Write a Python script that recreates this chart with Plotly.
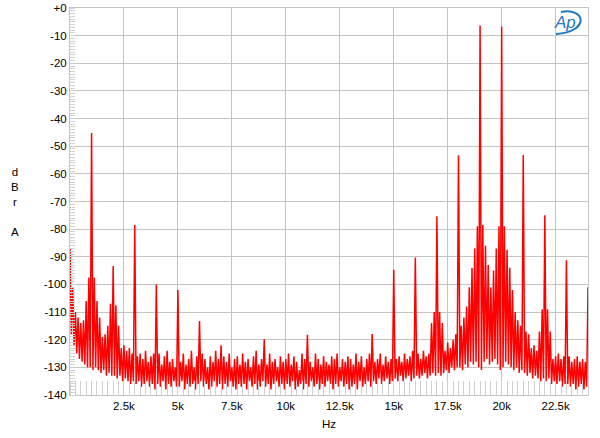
import numpy as np
import plotly.graph_objects as go

# ---------------- data ----------------
comb_step_hz = 125  # spacing of noise-floor maxima

# noise-floor maxima at 0, 125, 250 ... 24000 Hz (dB)
floor_peak_db = [
    -87, -101, -110, -112, -114, -113, -116, -117,
    -118, -116, -118, -117, -119, -118, -120, -119,
    -120, -122, -121, -123, -122, -124, -123, -125,
    -124, -126, -125, -127, -124, -128, -126, -125,
    -127, -125, -129, -126, -124, -128, -127, -130,
    -126, -128, -125, -129, -127, -124, -130, -126,
    -128, -125, -127, -130, -126, -128, -124, -127,
    -129, -126, -128, -125, -130, -127, -126, -129,
    -125, -128, -127, -130, -126, -124, -129, -127,
    -126, -129, -125, -128, -127, -130, -126, -128,
    -127, -125, -129, -126, -128, -131, -125, -127,
    -126, -128, -130, -125, -127, -129, -126, -128,
    -129, -126, -127, -125, -130, -127, -128, -126,
    -127, -129, -125, -128, -126, -130, -127, -125,
    -126, -128, -127, -125, -129, -126, -128, -127,
    -125, -127, -126, -128, -125, -127, -126, -124,
    -126, -125, -127, -124, -126, -125, -123, -125,
    -123, -124, -122, -124, -121, -123, -120, -122,
    -119, -120, -118, -117, -115, -116, -113, -114,
    -112, -111, -113, -110, -114, -112, -111, -113,
    -110, -112, -114, -113, -116, -118, -117, -119,
    -120, -122, -121, -123, -122, -124, -123, -125,
    -124, -126, -125, -127, -126, -125, -127, -126,
    -127, -126, -128, -127, -126, -128, -127, -128,
    -101,
]

# noise-floor minima half-way between the maxima (62.5, 187.5, ... Hz)
floor_trough_db = [
    -118, -122, -125, -127, -128, -129, -130, -130,
    -131, -130, -131, -132, -131, -133, -132, -133,
    -133, -134, -133, -135, -134, -135, -136, -135,
    -136, -135, -137, -136, -135, -137, -136, -138,
    -136, -137, -135, -138, -136, -137, -135, -137,
    -137, -135, -138, -136, -137, -136, -138, -136,
    -135, -137, -136, -138, -137, -135, -137, -136,
    -138, -136, -137, -135, -137, -138, -136, -137,
    -136, -138, -135, -137, -136, -138, -137, -135,
    -137, -136, -138, -136, -135, -137, -136, -138,
    -136, -137, -135, -138, -137, -136, -138, -136,
    -137, -135, -137, -136, -138, -136, -137, -135,
    -136, -138, -136, -137, -135, -137, -136, -138,
    -137, -136, -138, -135, -137, -136, -135, -137,
    -135, -136, -134, -136, -135, -134, -136, -135,
    -134, -135, -133, -135, -134, -133, -135, -134,
    -133, -134, -133, -132, -134, -133, -132, -133,
    -132, -133, -132, -131, -132, -130, -131, -130,
    -130, -131, -129, -130, -128, -129, -128, -130,
    -131, -128, -127, -129, -128, -127, -129, -131,
    -130, -128, -129, -130, -131, -130, -132, -131,
    -132, -133, -132, -134, -133, -134, -135, -134,
    -135, -134, -136, -135, -136, -135, -137, -136,
    -136, -137, -136, -138, -137, -136, -138, -137,
]

# discrete tones: harmonics, IMD products and sidebands
tone_freq_hz = [
    625, 750, 875, 1000, 1125, 1250, 1375,
    1750, 1875, 2000, 2125, 2250,
    3000, 4000, 5000, 6000, 7000, 9000, 11000, 14000,
    15000, 16000,
    16750, 16875, 17000, 17125, 17250,
    17750, 17875, 18000, 18125, 18250, 18375, 18500, 18625, 18750, 18875,
    19000, 19125, 19250, 19375, 19500, 19625, 19750, 19875,
    20000, 20125, 20250, 20375, 20500, 20625, 20750, 20875,
    21000, 21125, 21250,
    21750, 21875, 22000, 22125, 22250,
    23000,
]
tone_db = [
    -113, -106, -97.5, -45.2, -97.5, -106, -112,
    -115, -107, -93.3, -107.5, -115,
    -78.5, -100, -102, -113.2, -122, -119.8, -118.2, -117.9,
    -94.7, -90.3,
    -114, -110, -75.3, -110, -114,
    -120, -118, -53.3, -115, -112, -108, -101, -94, -87, -79,
    -6.3, -78.5, -86, -93, -101, -95, -87, -79,
    -6.7, -79, -87.5, -94, -102, -110, -113, -115,
    -53.2, -117, -118,
    -117, -109, -75, -109, -117,
    -91.3,
]

# axis tick labels
y_tick_vals = [0, -10, -20, -30, -40, -50, -60, -70, -80, -90, -100, -110, -120, -130, -140]
y_tick_text = ["+0", "-10", "-20", "-30", "-40", "-50", "-60", "-70", "-80", "-90",
               "-100", "-110", "-120", "-130", "-140"]
x_tick_vals = [2500, 5000, 7500, 10000, 12500, 15000, 17500, 20000, 22500]
x_tick_text = ["2.5k", "5k", "7.5k", "10k", "12.5k", "15k", "17.5k", "20k", "22.5k"]

# ---------------- build the spectrum trace ----------------
tones = dict(zip(tone_freq_hz, tone_db))
freq = []
level = []
for i, pk in enumerate(floor_peak_db):
    f = i * comb_step_hz
    freq.append(f)
    level.append(max(pk, tones.get(f, -999)))
    if i < len(floor_trough_db):
        freq.append(f + comb_step_hz / 2)
        level.append(floor_trough_db[i])

fig = go.Figure()
fig.add_trace(go.Scatter(
    x=freq, y=level, mode="lines",
    line=dict(color="#ff0000", width=1.5),
    hoverinfo="skip", showlegend=False,
))

FONT = "Liberation Sans, Arial, sans-serif"
GRID = "#c4c4c4"
L, R, T, B = 70, 12, 8, 43
W, H = 600, 438
pw, ph = W - L - R, H - T - B


def px(x, y):
    return (x - L) / pw, (H - B - y) / ph


fig.update_layout(
    width=W, height=H,
    margin=dict(l=L, r=R, t=T, b=B, autoexpand=False),
    paper_bgcolor="white", plot_bgcolor="white",
    font=dict(family=FONT, size=11.5, color="black"),
    xaxis=dict(
        range=[0, 24000], tickvals=x_tick_vals, ticktext=x_tick_text,
        automargin=False,
        showgrid=True, gridcolor=GRID, gridwidth=1,
        showline=True, linecolor=GRID, linewidth=1, mirror=True,
        ticks="", zeroline=False,
        minor=dict(dtick=250, ticks="inside", ticklen=14, tickcolor="#d0d0d0",
                   tickwidth=1, showgrid=False),
        tickfont=dict(family=FONT, size=11.5),
    ),
    yaxis=dict(
        range=[-140, 0], tickvals=y_tick_vals, ticktext=y_tick_text,
        automargin=False,
        showgrid=True, gridcolor=GRID, gridwidth=1,
        showline=True, linecolor=GRID, linewidth=1, mirror=True,
        ticks="", zeroline=False,
        minor=dict(dtick=1, ticks="inside", ticklen=5, tickcolor="#d0d0d0",
                   tickwidth=1, showgrid=False),
        tickfont=dict(family=FONT, size=11.5),
    ),
)

ax, ay = px(329, 424)
fig.add_annotation(text="Hz", xref="paper", yref="paper", x=ax, y=ay,
                   showarrow=False, font=dict(family=FONT, size=11.5),
                   xanchor="center", yanchor="middle")
ax, ay = px(15, 201.5)
fig.add_annotation(text="d<br>B<br>r<br> <br>A", xref="paper", yref="paper",
                   x=ax, y=ay, showarrow=False, align="center",
                   font=dict(family=FONT, size=11.5),
                   xanchor="center", yanchor="middle")

# AP logo
ax, ay = px(565, 23)
fig.add_annotation(text="<i>Ap</i>", xref="paper", yref="paper", x=ax, y=ay,
                   showarrow=False, font=dict(family=FONT, size=17, color="#1f78c1"),
                   xanchor="center", yanchor="middle")
p0 = px(561, 12)
c1 = px(586, 7)
c2 = px(590, 32)
p1 = px(556, 34)
fig.add_shape(type="path", xref="paper", yref="paper",
              path=f"M {p0[0]},{p0[1]} C {c1[0]},{c1[1]} {c2[0]},{c2[1]} {p1[0]},{p1[1]}",
              line=dict(color="#1f78c1", width=2))

fig.write_html(
    "out.html",
    config={"displayModeBar": False, "staticPlot": True},
    post_script="document.body.style.margin='0';document.body.style.overflow='hidden';",
)
